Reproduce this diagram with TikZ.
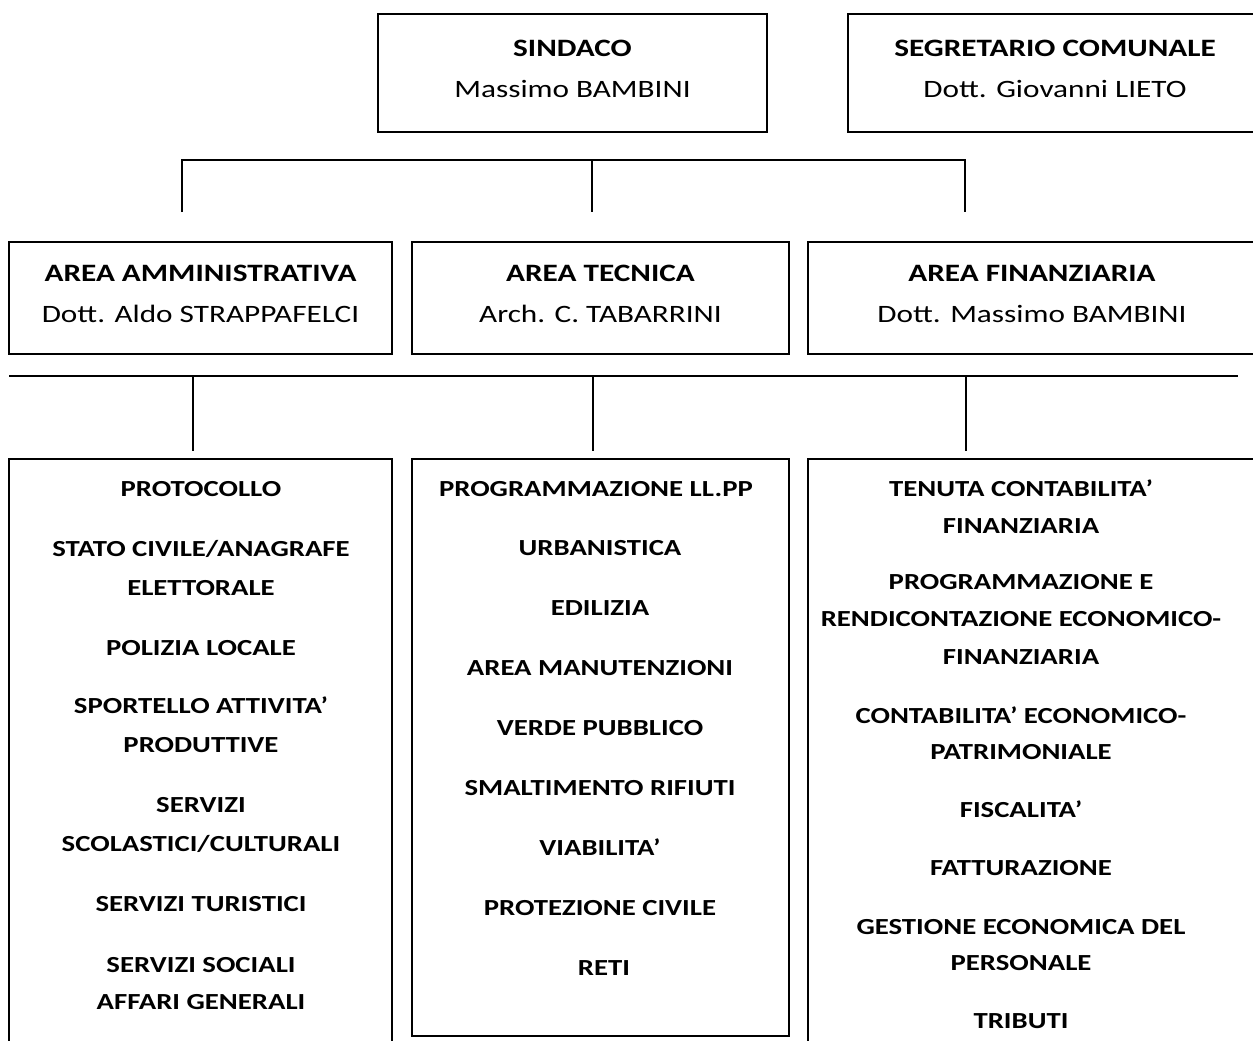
\documentclass[tikz,border=0pt]{standalone}
\usepackage{fontspec}
\setmainfont{Carlito}[FakeStretch=1.25]
\tikzset{
  box/.style={draw, line width=1.6pt, rectangle, align=center, inner sep=0pt,
    text depth=9pt, font=\fontsize{25}{41}\selectfont},
  bus/.style={line width=1.5pt},
  voce/.style={anchor=base, inner sep=0pt, font=\fontsize{23}{28}\selectfont\bfseries}
}
\begin{document}
\begin{tikzpicture}[x=1pt, y=-1pt]
      \useasboundingbox (0,0) rectangle (1253,1041);
      % vertici
      \node[box, minimum width=389, minimum height=118] (sindaco) at (572.5,73)
        {\textbf{SINDACO}\\Massimo BAMBINI};
      \node[box, minimum width=414, minimum height=118] (segretario) at (1055,73)
        {\textbf{SEGRETARIO COMUNALE}\\Dott. Giovanni LIETO};
      % aree
      \node[box, minimum width=383, minimum height=112] (amm) at (200.5,298)
        {\textbf{AREA AMMINISTRATIVA}\\Dott. Aldo STRAPPAFELCI};
      \node[box, minimum width=377, minimum height=112] (tec) at (600.5,298)
        {\textbf{AREA TECNICA}\\Arch. C. TABARRINI};
      \node[box, minimum width=448, minimum height=112] (fin) at (1032,298)
        {\textbf{AREA FINANZIARIA}\\Dott. Massimo BAMBINI};
      % servizi
      \node[box, minimum width=383, minimum height=601] (servamm) at (200.5,759.5) {};
      \node[box, minimum width=377, minimum height=577] (servtec) at (600.5,747.5) {};
      \node[box, minimum width=452, minimum height=601] (servfin) at (1034,759.5) {};
      % collegamenti
      \coordinate (a1) at (182,160);
      \coordinate (a2) at (592,160);
      \coordinate (a3) at (965,160);
      \coordinate (b1) at (9,376);
      \coordinate (b2) at (193,376);
      \coordinate (b3) at (593,376);
      \coordinate (b4) at (966,376);
      \coordinate (b5) at (1238,376);
      \begin{scope}[bus]
        \draw (a1 |- 0,212) -- (a1) -- (a3) -- (a3 |- 0,212);
        \draw (a2) -- (a2 |- 0,212);
        \draw (b1) -- (b5);
        \draw (b2) -- (b2 |- 0,451);
        \draw (b3) -- (b3 |- 0,451);
        \draw (b4) -- (b4 |- 0,451);
      \end{scope}
      % area amministrativa
      \node[voce] (am1) at (201,496) {PROTOCOLLO};
      \node[voce] (am2) at (201,556) {STATO CIVILE/ANAGRAFE};
      \node[voce] (am3) at (201,595) {ELETTORALE};
      \node[voce] (am4) at (201,655) {POLIZIA LOCALE};
      \node[voce] (am5) at (201,713) {SPORTELLO ATTIVITA’};
      \node[voce] (am6) at (201,752) {PRODUTTIVE};
      \node[voce] (am7) at (201,812) {SERVIZI};
      \node[voce] (am8) at (201,851) {SCOLASTICI/CULTURALI};
      \node[voce] (am9) at (201,911) {SERVIZI TURISTICI};
      \node[voce] (am10) at (201,972) {SERVIZI SOCIALI};
      \node[voce] (am11) at (201,1009) {AFFARI GENERALI};
      % area tecnica
      \node[voce] (te1) at (596,496) {PROGRAMMAZIONE LL.PP};
      \node[voce] (te2) at (600,555) {URBANISTICA};
      \node[voce] (te3) at (600,615) {EDILIZIA};
      \node[voce] (te4) at (600,675) {AREA MANUTENZIONI};
      \node[voce] (te5) at (600,735) {VERDE PUBBLICO};
      \node[voce] (te6) at (600,795) {SMALTIMENTO RIFIUTI};
      \node[voce] (te7) at (600,855) {VIABILITA’};
      \node[voce] (te8) at (600,915) {PROTEZIONE CIVILE};
      \node[voce] (te9) at (604,975) {RETI};
      % area finanziaria
      \node[voce] (fi1) at (1021,496) {TENUTA CONTABILITA’};
      \node[voce] (fi2) at (1021,533) {FINANZIARIA};
      \node[voce] (fi3) at (1021,589) {PROGRAMMAZIONE E};
      \node[voce] (fi4) at (1021,626) {RENDICONTAZIONE ECONOMICO-};
      \node[voce] (fi5) at (1021,664) {FINANZIARIA};
      \node[voce] (fi6) at (1021,723) {CONTABILITA’ ECONOMICO-};
      \node[voce] (fi7) at (1021,759) {PATRIMONIALE};
      \node[voce] (fi8) at (1021,817) {FISCALITA’};
      \node[voce] (fi9) at (1021,875) {FATTURAZIONE};
      \node[voce] (fi10) at (1021,934) {GESTIONE ECONOMICA DEL};
      \node[voce] (fi11) at (1021,970) {PERSONALE};
      \node[voce] (fi12) at (1021,1028) {TRIBUTI};
    \end{tikzpicture}
\end{document}
